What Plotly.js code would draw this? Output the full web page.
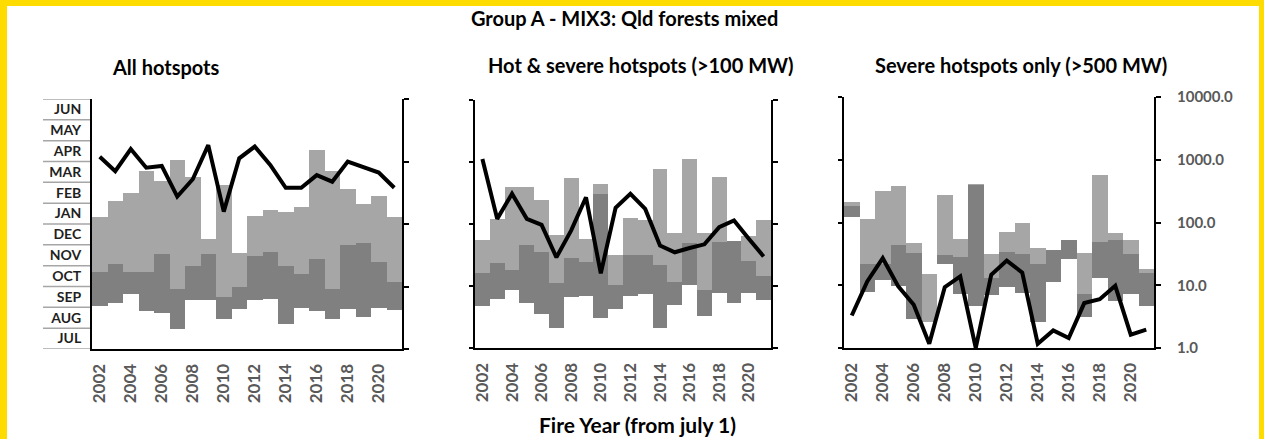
<!DOCTYPE html>
<html><head><meta charset="utf-8">
<script src="https://cdn.plot.ly/plotly-3.0.1.min.js"></script>
<style>html,body{margin:0;padding:0;background:#fff;}#chart{width:1264px;height:439px;}</style>
</head><body><div id="chart"></div>
<script>
const years = [2002,2003,2004,2005,2006,2007,2008,2009,2010,2011,2012,2013,2014,2015,2016,2017,2018,2019,2020,2021];
const yearTicks = [2002,2004,2006,2008,2010,2012,2014,2016,2018,2020];
const months = ['JUL','AUG','SEP','OCT','NOV','DEC','JAN','FEB','MAR','APR','MAY','JUN'];
const logTickVals = [1,10,100,1000,10000];
const logTickText = ['1.0','10.0','100.0','1000.0','10000.0'];

// Panel 1: All hotspots (months since Jul 1)
const p1Start = [2.06,2.19,2.64,1.82,1.74,0.98,2.35,2.35,1.42,1.92,2.35,2.38,1.18,1.98,1.82,1.44,1.92,1.55,1.98,1.86];
const p1Mid   = [3.71,4.06,3.68,3.71,4.56,2.86,3.98,4.56,2.50,2.96,4.48,4.64,3.98,3.62,4.30,2.86,4.99,5.07,4.16,3.23];
const p1End   = [6.32,7.12,7.49,8.54,8.06,9.09,8.24,5.26,7.87,4.59,6.38,6.69,6.56,6.82,9.55,8.54,7.68,6.94,7.34,6.32];
const p1Line  = [1190,700,1585,795,850,275,520,1830,158,1125,1735,880,380,380,605,475,1000,830,665,380];

// Panel 2: Hot & severe hotspots (>100 MW)
const p2Start = [2.03,2.35,2.82,2.19,1.66,0.98,2.45,2.50,1.47,1.87,2.51,2.61,0.97,2.06,3.04,1.55,2.66,2.19,2.66,2.33];
const p2Mid   = [3.61,4.09,3.78,4.96,4.64,3.14,4.35,4.15,7.44,3.03,4.49,4.49,4.03,3.20,5.10,2.79,5.12,5.17,4.19,3.49];
const p2End   = [5.22,6.22,7.81,7.78,7.17,5.48,8.23,5.28,7.95,4.52,6.31,6.20,8.66,5.56,9.15,5.56,8.26,5.17,5.41,6.20];
const p2Line  = [1120,121,307,121,97,29,79,270,16,182,307,175,45,35,41,47,89,114,58,30];

// Panel 3: Severe hotspots only (>500 MW)
const p3Start = [6.25,2.67,3.23,2.97,1.38,1.22,4.02,2.59,2.02,2.54,2.91,2.62,1.22,3.16,4.24,1.48,3.34,2.23,2.58,2.03];
const p3Mid   = [6.80,4.02,4.02,4.93,4.53,1.22,4.47,4.37,7.79,3.37,4.61,4.50,4.02,4.69,5.18,2.59,5.09,5.14,4.50,3.58];
const p3End   = [6.96,6.18,7.49,7.73,5.04,3.56,7.31,5.23,7.84,4.50,5.55,5.99,4.79,4.69,5.18,4.53,8.28,5.52,5.15,3.77];
const p3Line  = [3.3,11.5,27,9.6,4.9,1.17,9.3,13.8,1.0,14.7,24.7,15.9,1.17,1.91,1.44,5.2,6.0,9.8,1.63,1.96];

const W = 1264, H = 439;
const px = v => v / W;
const py = v => 1 - v / H;
const FONT = 'Lato, "Open Sans", sans-serif';
const LIGHT = '#a6a6a6', DARK = '#808080';

const panels = [
  {s:p1Start, m:p1Mid, e:p1End, l:p1Line, xa:'x', ya:'y', ya2:'y2'},
  {s:p2Start, m:p2Mid, e:p2End, l:p2Line, xa:'x2', ya:'y3', ya2:'y4'},
  {s:p3Start, m:p3Mid, e:p3End, l:p3Line, xa:'x3', ya:'y5', ya2:'y6'}
];
const traces = [];
panels.forEach(p => {
  traces.push({type:'bar', x:years, base:p.s, y:p.m.map((v,i)=>v-p.s[i]), xaxis:p.xa, yaxis:p.ya,
    marker:{color:DARK, line:{width:0}}, width:1, hoverinfo:'skip', showlegend:false});
  traces.push({type:'bar', x:years, base:p.m, y:p.e.map((v,i)=>v-p.m[i]), xaxis:p.xa, yaxis:p.ya,
    marker:{color:LIGHT, line:{width:0}}, width:1, hoverinfo:'skip', showlegend:false});
  traces.push({type:'scatter', mode:'lines', x:years, y:p.l, xaxis:p.xa, yaxis:p.ya2,
    line:{color:'#000', width:4}, showlegend:false});
});

function xAxis(d0, d1, anchor){
  return {domain:[px(d0),px(d1)], anchor:anchor, range:[2001.5,2021.5], tickmode:'array', tickvals:yearTicks,
    ticktext:yearTicks.map(String), tickangle:-90, showline:true, linecolor:'#000', linewidth:2,
    showgrid:false, zeroline:false, ticks:'', ticklabelstandoff:6,
    tickfont:{family:FONT, size:17, color:'#595959', weight:'bold'}, fixedrange:true};
}
function monthAxis(top, bot, anchor, labels){
  const a = {domain:[1-bot/H, 1-top/H], anchor:anchor, range:[0,12], showline:true, linecolor:'#000', linewidth:2,
    showgrid:false, zeroline:false, fixedrange:true};
  if(labels){
    Object.assign(a,{tickmode:'array', tickvals:months.map((_,i)=>i+0.5), ticktext:months, ticks:'',
      ticklabelstandoff:6, tickfont:{family:FONT, size:14, color:'#1f1f1f', weight:'bold'}});
  } else {
    Object.assign(a,{tickmode:'array', tickvals:[0,3,6,9,12], ticks:'outside', ticklen:4, tickwidth:2,
      tickcolor:'#000', showticklabels:false});
  }
  return a;
}
function logAxis(top, bot, anchor, overlay, labels){
  return {domain:[1-bot/H, 1-top/H], anchor:anchor, overlaying:overlay, side:'right', type:'log', range:[0,4],
    tickmode:'array', tickvals:logTickVals, ticktext:logTickText, ticks:'outside', ticklen:5, tickwidth:2,
    tickcolor:'#000', showline:true, linecolor:'#000', linewidth:2, showgrid:false, zeroline:false,
    showticklabels:labels, ticklabelstandoff:13,
    tickfont:{family:FONT, size:15, color:'#595959', weight:'bold'}, fixedrange:true};
}

const shapes = [
  {type:'rect', xref:'paper', yref:'paper', x0:px(7), x1:px(1259), y0:0, y1:py(6), fillcolor:'#fff', line:{width:0}, layer:'below'}
];
for(let k=0;k<=12;k++){
  shapes.push({type:'line', xref:'paper', yref:'y', x0:px(43), x1:px(90), y0:k, y1:k, line:{color:'#a6a6a6', width:1.5}});
}

const ann = (text, x, y, size, extra) => Object.assign({text:text, x:px(x), y:py(y), xref:'paper', yref:'paper',
  showarrow:false, xanchor:'center', yanchor:'middle', font:{family:FONT, size:size, color:'#000', weight:'bold'}}, extra||{});

const layout = {
  width:W, height:H, margin:{l:0,r:0,t:0,b:0}, paper_bgcolor:'#FFDC00', plot_bgcolor:'rgba(0,0,0,0)',
  barmode:'overlay', bargap:0, showlegend:false,
  xaxis:xAxis(92,402,'y'), xaxis2:xAxis(475,771,'y3'), xaxis3:xAxis(844,1154,'y5'),
  yaxis:monthAxis(99,349,'x',true), yaxis2:logAxis(99,349,'x','y',false),
  yaxis3:monthAxis(100,348,'x2',false), yaxis4:logAxis(100,348,'x2','y3',false),
  yaxis5:monthAxis(97,348,'x3',false), yaxis6:logAxis(97,348,'x3','y5',true),
  shapes:shapes,
  annotations:[
    ann('Group A - MIX3: Qld forests mixed', 624, 18, 20),
    ann('All hotspots', 166, 67, 20),
    ann('Hot & severe hotspots (>100 MW)', 641, 65, 20),
    ann('Severe hotspots only (>500 MW)', 1021, 65, 20),
    ann('Fire Year (from july 1)', 637, 424, 21)
  ]
};
Plotly.newPlot('chart', traces, layout, {staticPlot:true, displayModeBar:false});
</script></body></html>
